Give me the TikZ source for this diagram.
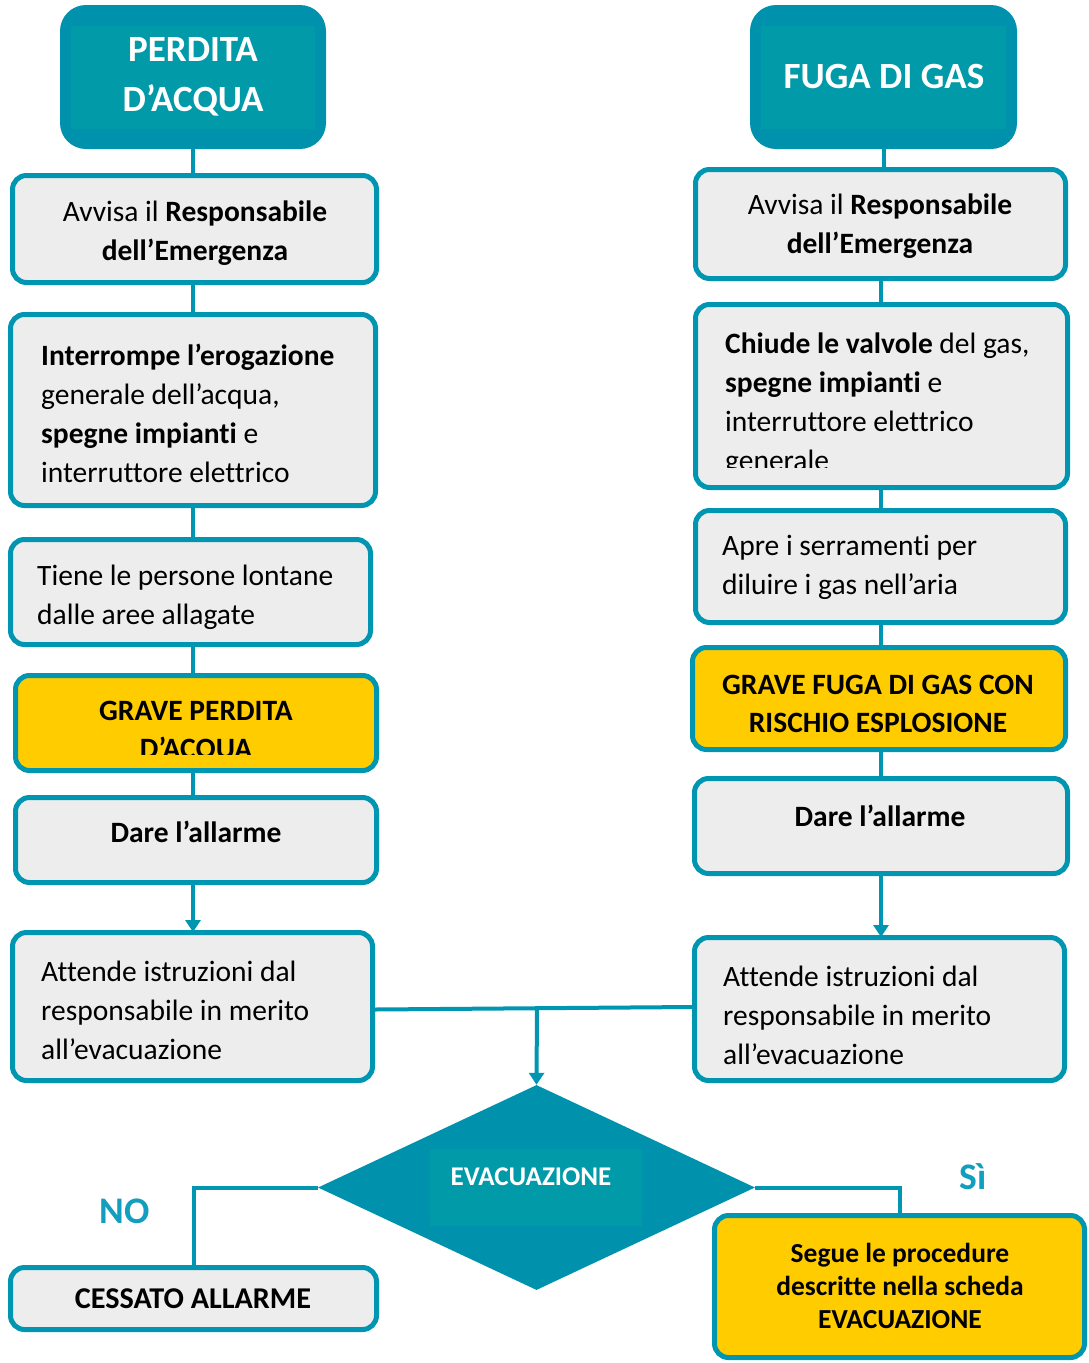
\documentclass[tikz,border=0pt]{standalone}
\usepackage{fontspec}
\setmainfont{Carlito}[Ligatures=NoCommon]
\usetikzlibrary{arrows.meta,shapes.geometric}

\definecolor{tealline}{RGB}{0,150,178}
\definecolor{tealfill}{RGB}{0,146,172}
\definecolor{tealinner}{RGB}{0,154,168}
\definecolor{boxgray}{RGB}{237,237,237}
\definecolor{warnyellow}{RGB}{255,204,0}
\definecolor{labelteal}{RGB}{18,158,190}

\tikzset{
  stepbox/.style={draw=tealline, line width=5pt, fill=boxgray, rounded corners=14pt, inner sep=0pt},
  alertbox/.style={stepbox, fill=warnyellow},
  headbox/.style={fill=tealfill, rounded corners=26pt, inner sep=0pt},
  link/.style={draw=tealline, line width=4pt},
  arrowlink/.style={link, -{Triangle[length=12pt,width=15pt]}},
  body/.style={font=\fontsize{29.5}{39}\selectfont, inner sep=0pt, text=black},
  bodybold/.style={body, font=\fontsize{29.5}{38}\selectfont\bfseries},
  headtext/.style={font=\fontsize{37}{50}\selectfont\bfseries, text=white, inner sep=0pt, align=center},
  branchlabel/.style={font=\fontsize{37.5}{40}\selectfont\bfseries, text=labelteal, inner sep=0pt},
}

% box from outer corner (x1,y1) to (x2,y2), line width taken into account
\newcommand\placebox[6]{%
  \node[#6, minimum width={(#4-#2-5)*1pt}, minimum height={(#5-#3-5)*1pt}]
    (#1) at ({(#2+#4)/2},{(#3+#5)/2}) {};}

\begin{document}
\begin{tikzpicture}[x=1pt,y=-1pt]
\useasboundingbox (0,0) rectangle (1089,1363);

% ---------- headers ----------
\node[headbox, minimum width=266pt, minimum height=144pt] (lt) at (193,77) {};
\fill[tealinner] (71,26) rectangle (315,129);
\node[headtext] (ltt) at (193,77) {PERDITA\\D’ACQUA};

\node[headbox, minimum width=267pt, minimum height=144pt] (rt) at (883.5,77) {};
\fill[tealinner] (761,26) rectangle (1006,129);
\node[headtext] (rtt) at (884,77) {FUGA DI GAS};

% ---------- left column ----------
\placebox{lb1}{10}{173}{379}{285}{stepbox}
\placebox{lb2}{8}{312}{378}{508}{stepbox}
\placebox{lb3}{8}{537}{373}{647}{stepbox}
\placebox{lb4}{13}{673}{379}{773}{alertbox}
\placebox{lb5}{13}{795}{379}{885}{stepbox}
\placebox{lb6}{10}{930}{375}{1083}{stepbox}

% ---------- right column ----------
\placebox{rb1}{693}{167}{1068}{281}{stepbox}
\placebox{rb2}{693}{302}{1070}{490}{stepbox}
\placebox{rb3}{693}{508}{1068}{625}{stepbox}
\placebox{rb4}{690}{645}{1068}{752}{alertbox}
\placebox{rb5}{692}{776}{1070}{876}{stepbox}
\placebox{rb6}{692}{935}{1067}{1083}{stepbox}

% ---------- bottom ----------
\placebox{stop}{8}{1265}{379}{1332}{stepbox}
\placebox{evac}{712}{1213}{1087}{1360}{alertbox}

\node[diamond, aspect=2.13, minimum width=437pt, minimum height=205pt,
      inner sep=0pt, fill=tealfill] (dec) at (536.5,1187.5) {};
\fill[tealinner] (430,1149) rectangle (642,1226);
\node[font=\fontsize{27}{30}\selectfont\bfseries, text=white, inner sep=0pt] (dect) at (531,1177) {EVACUAZIONE};

% ---------- connectors ----------
\coordinate (lcol) at (193,0);
\coordinate (rcol) at (881,0);
\draw[link] (lcol |- lt.south) -- (lcol |- lb1.north);
\draw[link] (lcol |- lb1.south) -- (lcol |- lb2.north);
\draw[link] (lcol |- lb2.south) -- (lcol |- lb3.north);
\draw[link] (lcol |- lb3.south) -- (lcol |- lb4.north);
\draw[link] (lcol |- lb4.south) -- (lcol |- lb5.north);
\draw[arrowlink] (lcol |- lb5.south) -- ([yshift=-2pt]lcol |- lb6.north);

\draw[link] (884,0 |- rt.south) -- (884,0 |- rb1.north);
\draw[link] (rcol |- rb1.south) -- (rcol |- rb2.north);
\draw[link] (rcol |- rb2.south) -- (rcol |- rb3.north);
\draw[link] (rcol |- rb3.south) -- (rcol |- rb4.north);
\draw[link] (rcol |- rb4.south) -- (rcol |- rb5.north);
\draw[arrowlink] (rcol |- rb5.south) -- ([yshift=-2pt]rcol |- rb6.north);

\draw[link] ([yshift=-3pt]lb6.east) -- coordinate[pos=0.511] (merge) ([yshift=2pt]rb6.west);
\draw[arrowlink] (merge) -- (dec.north);

\draw[link] (dec.west) -| (stop.north);
\draw[link] (dec.east) -| (evac.north);
\node[branchlabel] (nolab) at (125,1211) {NO};
\node[branchlabel] (silab) at (973,1177) {Sì};

% ---------- texts ----------
\node[body, align=center] (lb1t) at (195,233) {Avvisa il \textbf{Responsabile}\\\textbf{dell’Emergenza}};
\node[body, align=left, anchor=west] (lb2t) at (41,413)
  {\textbf{Interrompe l’erogazione}\\generale dell’acqua,\\\textbf{spegne impianti} e\\interruttore elettrico};
\node[body, align=left, anchor=west] (lb3t) at (37,597) {Tiene le persone lontane\\dalle aree allagate};
\begin{scope}
  \clip (0,660) rectangle (400,754);
  \node[bodybold, align=center] (lb4t) at (196,732) {GRAVE PERDITA\\D’ACQUA};
\end{scope}
\node[bodybold] (lb5t) at (196,832) {Dare l’allarme};
\node[body, align=left, anchor=west] (lb6t) at (41,1010)
  {Attende istruzioni dal\\responsabile in merito\\all’evacuazione};

\node[body, align=center] (rb1t) at (880,226) {Avvisa il \textbf{Responsabile}\\\textbf{dell’Emergenza}};
\begin{scope}
  \clip (700,310) rectangle (1060,467);
  \node[body, align=left, anchor=west] (rb2t) at (725,404)
    {\textbf{Chiude le valvole} del gas,\\\textbf{spegne impianti} e\\interruttore elettrico\\generale};
\end{scope}
\node[body, align=left, anchor=west] (rb3t) at (722,567) {Apre i serramenti per\\diluire i gas nell’aria};
\node[bodybold, align=center] (rb4t) at (878,704) {GRAVE FUGA DI GAS CON\\RISCHIO ESPLOSIONE};
\node[bodybold] (rb5t) at (880,816) {Dare l’allarme};
\node[body, align=left, anchor=west] (rb6t) at (723,1015)
  {Attende istruzioni dal\\responsabile in merito\\all’evacuazione};

\node[font=\fontsize{30.2}{32}\selectfont\bfseries, inner sep=0pt] (stopt) at (193,1299) {CESSATO ALLARME};
\node[font=\fontsize{27.5}{33}\selectfont\bfseries, inner sep=0pt, align=center] (evact) at (900,1286)
  {Segue le procedure\\descritte nella scheda\\EVACUAZIONE};
\end{tikzpicture}
\end{document}
